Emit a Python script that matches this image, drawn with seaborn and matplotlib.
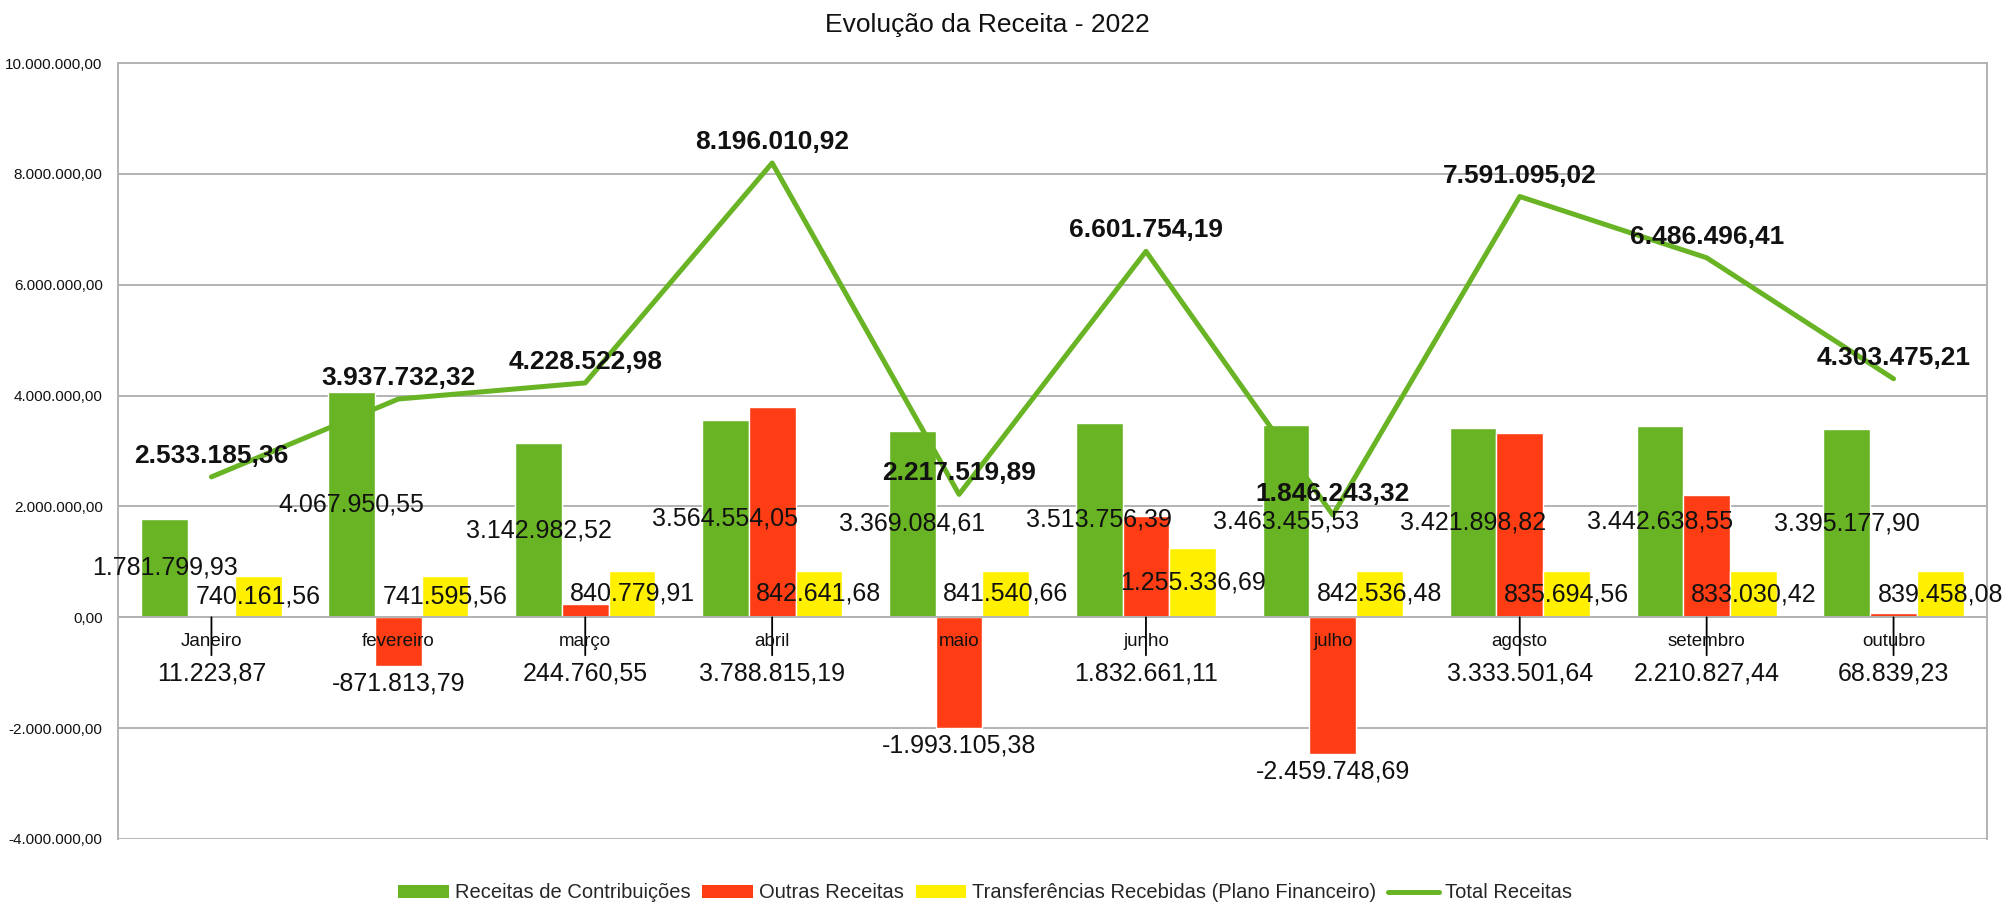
import numpy as np
import pandas as pd
import matplotlib
matplotlib.use("Agg")
import matplotlib.pyplot as plt
import seaborn as sns
from matplotlib.patches import Patch
from matplotlib.lines import Line2D

# dados (Evolução da Receita - 2022)
meses = ['Janeiro', 'fevereiro', 'março', 'abril', 'maio', 'junho',
         'julho', 'agosto', 'setembro', 'outubro']

contribuicoes = [1781799.93, 4067950.55, 3142982.52, 3564554.05, 3369084.61,
                 3513756.39, 3463455.53, 3421898.82, 3442638.55, 3395177.90]

outras = [11223.87, -871813.79, 244760.55, 3788815.19, -1993105.38,
          1832661.11, -2459748.69, 3333501.64, 2210827.44, 68839.23]

transferencias = [740161.56, 741595.56, 840779.91, 842641.68, 841540.66,
                  1255336.69, 842536.48, 835694.56, 833030.42, 839458.08]

total = [2533185.36, 3937732.32, 4228522.98, 8196010.92, 2217519.89,
         6601754.19, 1846243.32, 7591095.02, 6486496.41, 4303475.21]

series = ['Receitas de Contribuições', 'Outras Receitas',
          'Transferências Recebidas (Plano Financeiro)']

cores = {
    'Receitas de Contribuições': '#69B425',
    'Outras Receitas': '#FF3D14',
    'Transferências Recebidas (Plano Financeiro)': '#FFF000',
}
verde_linha = '#69B425'
cinza = '#b3b3b3'
texto = '#111111'


def fmt_br(v):
    s = f'{v:,.2f}'
    return s.replace(',', 'X').replace('.', ',').replace('X', '.')


df = pd.DataFrame({
    'mes': meses * 3,
    'serie': [series[0]] * 10 + [series[1]] * 10 + [series[2]] * 10,
    'valor': contribuicoes + outras + transferencias,
})

sns.set_style('white')
plt.rcParams['font.family'] = ['Liberation Sans', 'DejaVu Sans']

fig = plt.figure(figsize=(20.13, 9.07), dpi=100)
ax = fig.add_axes([118 / 2013, 1 - 839 / 907, (1987 - 118) / 2013, (839 - 63) / 907])

sns.barplot(
    data=df, x='mes', y='valor', hue='serie',
    order=meses, hue_order=series, palette=cores,
    width=0.75, gap=0, saturation=1, errorbar=None,
    legend=False, ax=ax, zorder=2
)

x = np.arange(len(meses))
sns.lineplot(x=x, y=total, color=verde_linha, linewidth=3.6, sort=False,
             ax=ax, zorder=4)

ax.set_xlim(-0.5, len(meses) - 0.5)
ax.set_ylim(-4_000_000, 10_000_000)
ax.set_yticks(np.arange(-4_000_000, 10_000_001, 2_000_000))
ax.set_yticklabels([fmt_br(v) for v in ax.get_yticks()], fontsize=11, color=texto)
ax.set_xlabel('')
ax.set_ylabel('')

# eixo das categorias no zero
ax.spines['bottom'].set_position(('data', 0))
for s in ['left', 'right', 'top', 'bottom']:
    ax.spines[s].set_color(cinza)
    ax.spines[s].set_linewidth(1.4)

ax.yaxis.grid(True, color=cinza, linewidth=1.4)
ax.set_axisbelow(True)
# nomes dos meses por cima das barras
ax.xaxis.set_zorder(5)

ax.set_xticks(x)
ax.set_xticklabels(meses, fontsize=13.5, color=texto)
ax.set_xticks(np.arange(0.5, len(meses) - 1, 1), minor=True)
ax.tick_params(axis='x', which='major', length=0, pad=11)
ax.tick_params(axis='x', which='minor', direction='out', length=5,
               width=1.4, color=cinza)
ax.tick_params(axis='y', direction='out', length=6, width=1.4,
               color=cinza, pad=5)

# rótulos das barras
larg = 0.25
for i in x:
    # contribuições e transferências: no meio da barra
    ax.text(i - larg, contribuicoes[i] / 2, fmt_br(contribuicoes[i]),
            ha='center', va='center', fontsize=18, color=texto, zorder=5)
    ax.text(i + larg, transferencias[i] / 2, fmt_br(transferencias[i]),
            ha='center', va='center', fontsize=18, color=texto, zorder=5)

    # outras receitas: abaixo da barra
    v = outras[i]
    if v < 0:
        ax.annotate(fmt_br(v), xy=(i, v), xytext=(0, -18),
                    textcoords='offset pixels', ha='center', va='center',
                    fontsize=18, color=texto, zorder=5)
    else:
        ax.annotate(fmt_br(v), xy=(i, 0), xytext=(0, -56),
                    textcoords='offset pixels', ha='center', va='center',
                    fontsize=18, color=texto, zorder=5,
                    arrowprops=dict(arrowstyle='-', color='black', lw=1.3,
                                    shrinkA=2, shrinkB=0))

    # total
    ax.annotate(fmt_br(total[i]), xy=(i, total[i]), xytext=(0, 21),
                textcoords='offset pixels', ha='center', va='center',
                fontsize=19, fontweight='bold', color=texto, zorder=6)

fig.text(987 / 2013, 1 - 25 / 907, 'Evolução da Receita - 2022',
         ha='center', va='center', fontsize=19, color=texto)

handles = [Patch(facecolor=cores[s], edgecolor='none') for s in series]
handles.append(Line2D([0], [0], color=verde_linha, linewidth=3.6))
fig.legend(handles, series + ['Total Receitas'], loc='center',
           bbox_to_anchor=(985 / 2013, 1 - 893 / 907), ncol=4, frameon=False,
           fontsize=14.5, handlelength=2.5, handleheight=0.62,
           handletextpad=0.3, columnspacing=0.6)

fig.savefig('out.png', dpi=100, facecolor='white')
